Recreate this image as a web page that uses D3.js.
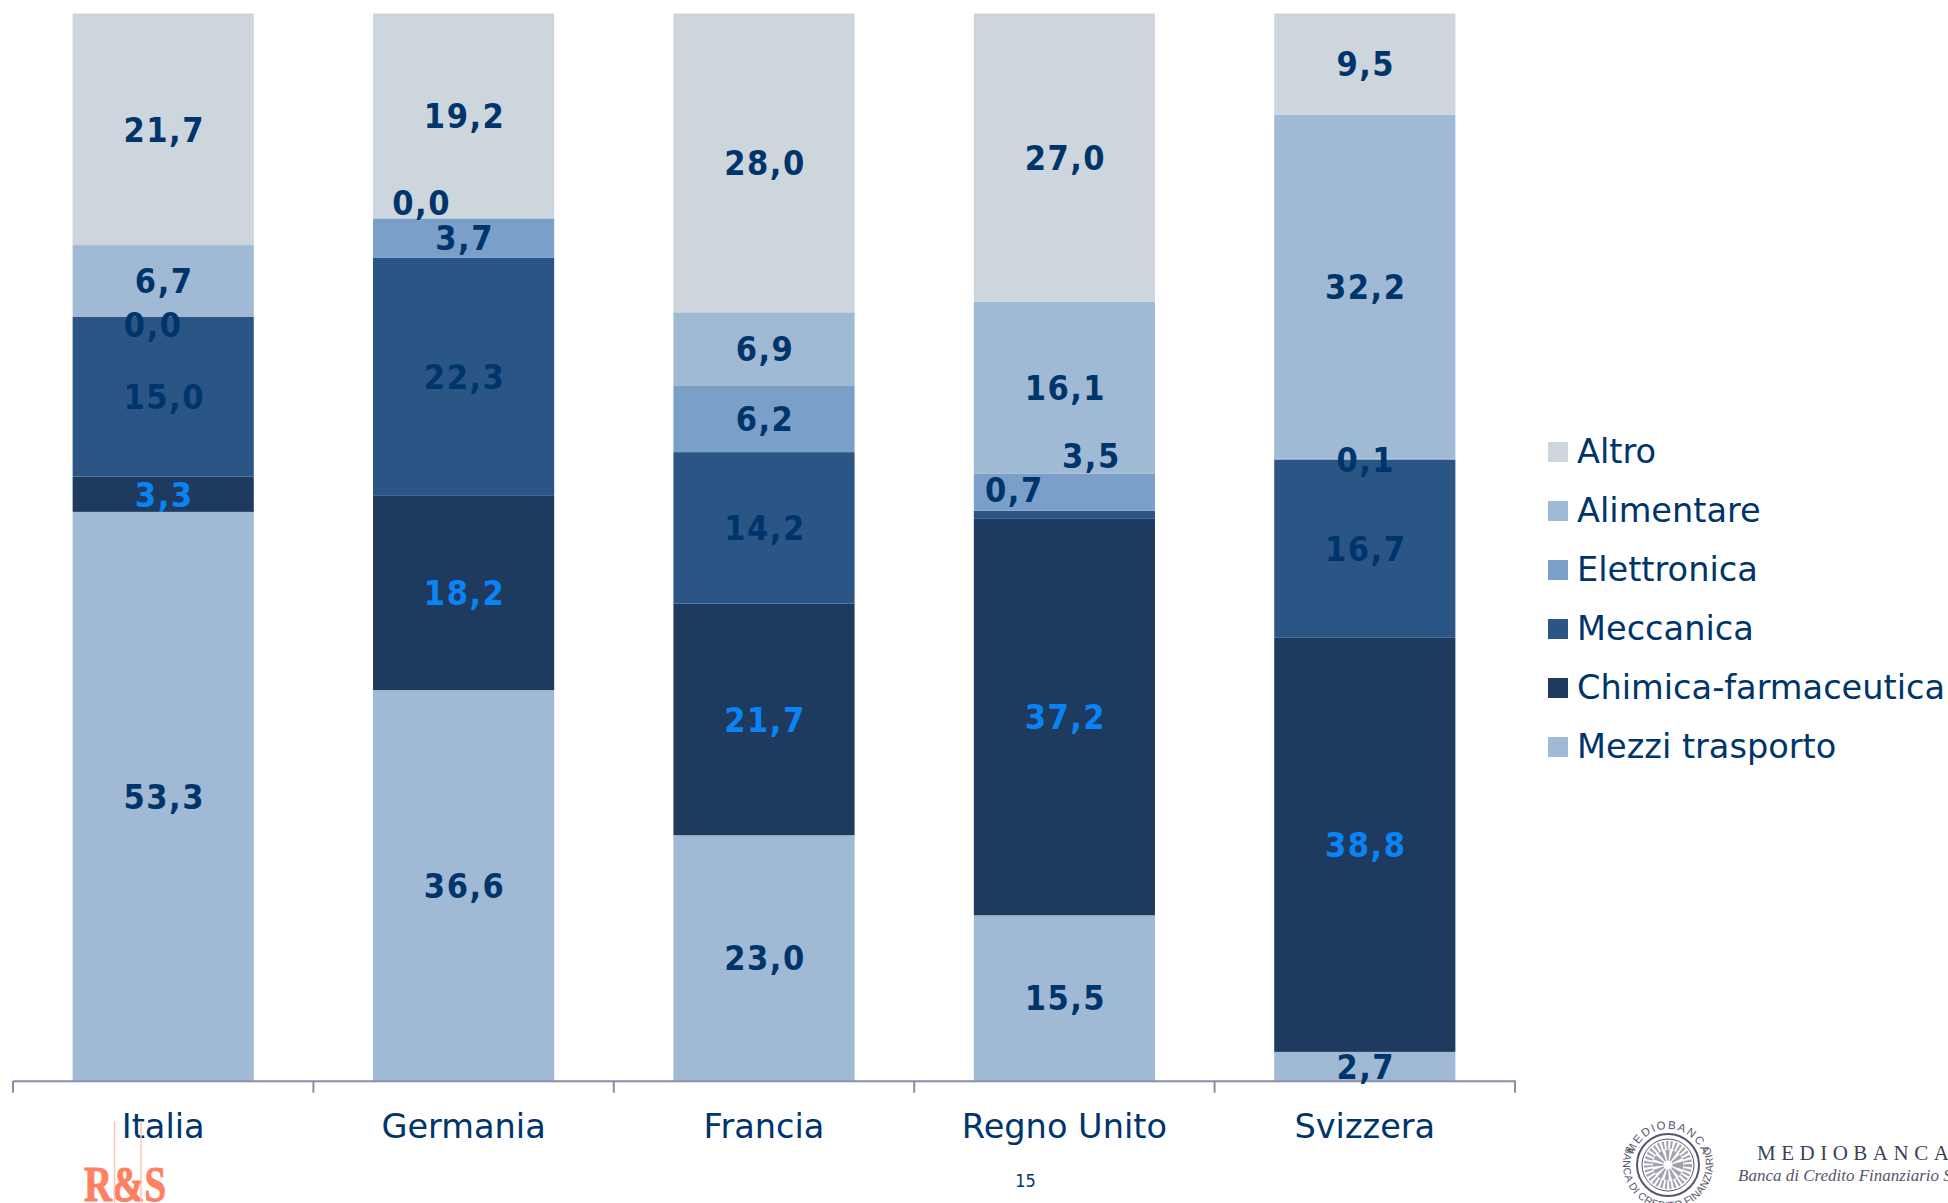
<!DOCTYPE html>
<html><head><meta charset="utf-8">
<script src="https://cdn.jsdelivr.net/npm/d3@7"></script>
<style>
html,body{margin:0;padding:0;background:#fff;overflow:hidden}
svg{display:block}
text{font-family:"DejaVu Sans Condensed","DejaVu Sans";font-stretch:condensed}
text.wide{font-family:"DejaVu Sans";font-stretch:normal}
</style></head><body>
<svg id="c" width="1948" height="1203"></svg>
<script>
const countries=["Italia","Germania","Francia","Regno Unito","Svizzera"];
const seriesNames=["Mezzi trasporto","Chimica-farmaceutica","Meccanica","Elettronica","Alimentare","Altro"];
const mezzi=[53.3,36.6,23.0,15.5,2.7];
const chimica=[3.3,18.2,21.7,37.2,38.8];
const meccanica=[15.0,22.3,14.2,0.7,16.7];
const elettronica=[0.0,3.7,6.2,3.5,0.1];
const alimentare=[6.7,0.0,6.9,16.1,32.2];
const altro=[21.7,19.2,28.0,27.0,9.5];
const seriesValues=[mezzi,chimica,meccanica,elettronica,alimentare,altro];
const colors=["#A0B9D5","#1E3B5F","#2A5585","#7A9FC9","#A0B9D5","#CDD5DD"];
const labelColors=["#00356B","#0A84F5","#00356B","#00356B","#00356B","#00356B"];
// manual nudges of crowded labels: "series|country" -> [dx,dy]
const nudges={"3|0":[-11,8],"4|1":[-43,-16],"2|3":[-51,-25],"3|3":[26,-36],"3|4":[0,1]};

const svg=d3.select("#c");
const x=d3.scaleBand().domain(countries).range([13,1515]).paddingInner(0.397).paddingOuter(0.1985);
const y=d3.scaleLinear().domain([0,100]).range([1080.7,13.5]);
const step=x.step();
const fmt=v=>v.toFixed(1).replace(".",",");

const table=countries.map((c,i)=>{const r={country:c};seriesNames.forEach((s,k)=>r[s]=seriesValues[k][i]);return r;});
const stacked=d3.stack().keys(seriesNames)(table);

svg.append("g").selectAll("g").data(stacked).join("g")
  .attr("fill",(d,i)=>colors[i])
  .selectAll("rect").data(d=>d).join("rect")
  .attr("x",d=>x(d.data.country)).attr("width",x.bandwidth())
  .attr("y",d=>y(d[1])).attr("height",d=>y(d[0])-y(d[1]));

// axis
const axis=svg.append("g").attr("transform",`translate(0,${y(0)})`)
  .call(d3.axisBottom(x).tickSize(0).tickPadding(33));
axis.select(".domain").attr("stroke","#8A8CA6").attr("stroke-width",2);
axis.selectAll("text").attr("class","wide").attr("font-size",33.6).attr("fill","#00356B")
  .style("font-family",'"DejaVu Sans"').style("font-stretch","normal");
const edges=d3.range(countries.length+1).map(i=>x.range()[0]+i*step);
axis.selectAll("line.edge").data(edges).join("line").attr("class","edge")
  .attr("x1",d=>d).attr("x2",d=>d).attr("y1",0).attr("y2",12)
  .attr("stroke","#8A8CA6").attr("stroke-width",2);

// data labels
stacked.forEach((s,k)=>{
  svg.append("g").selectAll("text").data(s).join("text")
   .attr("x",(d,i)=>x(d.data.country)+x.bandwidth()/2+1+((nudges[k+"|"+i]||[0,0])[0]))
   .attr("y",(d,i)=>(y(d[0])+y(d[1]))/2+((nudges[k+"|"+i]||[0,0])[1]))
   .attr("dy","0.36em").attr("text-anchor","middle")
   .attr("font-size",34).attr("font-weight",700).attr("letter-spacing",1.5)
   .attr("fill",labelColors[k]).text(d=>fmt(d[1]-d[0]));
});

// legend
const legendOrder=seriesNames.map((n,i)=>({n,c:colors[i]})).reverse();
const leg=d3.scalePoint().domain(legendOrder.map(d=>d.n)).range([452,747]);
const lg=svg.append("g").selectAll("g").data(legendOrder).join("g").attr("transform",d=>`translate(1548,${leg(d.n)})`);
lg.append("rect").attr("x",0).attr("y",-10).attr("width",20).attr("height",20).attr("fill",d=>d.c);
lg.append("text").attr("class","wide").attr("x",29).attr("y",-1).attr("dy","0.36em").attr("font-size",33.6).attr("fill","#00356B").text(d=>d.n);

// footer
svg.append("text").attr("x",1025.5).attr("y",1187).attr("text-anchor","middle").attr("font-size",18).attr("fill","#00356B").text("15");
const rs=svg.append("g");
rs.append("text").attr("x",84).attr("y",1201).attr("font-size",50).attr("font-weight",700).attr("fill","#FF8060").attr("stroke","#FF8060").attr("stroke-width",1)
  .attr("textLength",82).attr("lengthAdjust","spacingAndGlyphs").style("font-family","Liberation Serif").style("font-stretch","normal").text("R&S");
[114.5,141].forEach(v=>rs.append("line").attr("x1",v).attr("x2",v).attr("y1",1121).attr("y2",1203).attr("stroke","#FFC4B4").attr("stroke-width",1.5));

// Mediobanca logo
const logo=svg.append("g").attr("fill","none").attr("stroke","#55556F");
const cx=1668,cy=1165;
logo.append("circle").attr("cx",cx).attr("cy",cy).attr("r",31).attr("stroke-width",2);
logo.append("circle").attr("cx",cx).attr("cy",cy).attr("r",26).attr("stroke-width",1);
logo.append("circle").attr("cx",cx).attr("cy",cy).attr("r",20).attr("stroke-width",8).attr("stroke-dasharray","2 2").attr("opacity",.55);
logo.append("circle").attr("cx",cx).attr("cy",cy).attr("r",10).attr("stroke-width",11).attr("stroke-dasharray","3 2").attr("opacity",.55);
const defs=svg.append("defs");
defs.append("path").attr("id","sealTop").attr("d",`M ${cx-36} ${cy} A 36 36 0 0 1 ${cx+36} ${cy}`);
defs.append("path").attr("id","sealLow").attr("d",`M ${cx-42} ${cy-17} A 45 45 0 1 0 ${cx+42} ${cy-17}`);
const sealText=(id,t,len,fs)=>svg.append("text").attr("font-size",fs).attr("fill","#55556F").style("font-family","Liberation Sans").style("font-stretch","normal")
  .append("textPath").attr("href",id).attr("startOffset","50%").attr("text-anchor","middle").attr("textLength",len).text(t);
sealText("#sealTop","MEDIOBANCA",92,11.5);
sealText("#sealLow","BANCA DI CREDITO FINANZIARIO",178,10.5);
svg.append("text").attr("x",1757).attr("y",1160).attr("font-size",21).attr("letter-spacing",5.5).attr("fill","#3F3F5C").style("font-family","Liberation Serif").style("font-stretch","normal").text("MEDIOBANCA");
svg.append("text").attr("x",1738).attr("y",1181).attr("font-size",17).attr("font-style","italic").attr("fill","#55556F").style("font-family","Liberation Serif").style("font-stretch","normal").text("Banca di Credito Finanziario S.p.A.");
</script></body></html>
